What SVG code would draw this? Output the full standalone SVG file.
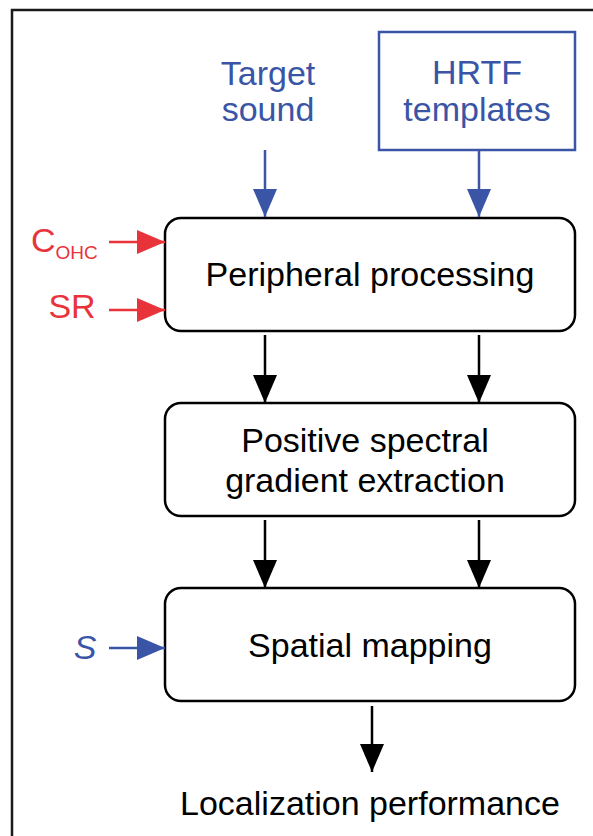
<svg xmlns="http://www.w3.org/2000/svg" width="593" height="836" viewBox="0 0 593 836">
<style>
text{font-family:"Liberation Sans",Arial,sans-serif;font-size:34px;text-anchor:middle}
.blk{fill:#000}
.blu{fill:#3a55a6}
.red{fill:#e8333b}
.box{fill:#fff;stroke:#000;stroke-width:2.5}
.c{fill:none;stroke-width:2.5}
</style>
<defs>
<marker id="ab" markerUnits="userSpaceOnUse" markerWidth="28" markerHeight="24" refX="28" refY="12" orient="auto"><path d="M0,0 L28,12 L0,24 Z" fill="#000"/></marker>
<marker id="au" markerUnits="userSpaceOnUse" markerWidth="28" markerHeight="24" refX="28" refY="12" orient="auto"><path d="M0,0 L28,12 L0,24 Z" fill="#3a55a6"/></marker>
<marker id="ar" markerUnits="userSpaceOnUse" markerWidth="28" markerHeight="24" refX="28" refY="12" orient="auto"><path d="M0,0 L28,12 L0,24 Z" fill="#e8333b"/></marker>
</defs>
<rect width="593" height="836" fill="#fff"/>
<path d="M12,836 V10 H593" fill="none" stroke="#1a1a1a" stroke-width="2.5"/>

<g id="target">
<text class="blu" x="268" y="85">Target</text>
<text class="blu" x="268" y="121">sound</text>
</g>
<g id="hrtf">
<rect x="379" y="32" width="196" height="118" fill="#fff" stroke="#3a55a6" stroke-width="2.5"/>
<text class="blu" x="477" y="84">HRTF</text>
<text class="blu" x="477" y="121">templates</text>
</g>
<g id="peripheral">
<rect class="box" x="165" y="218" width="410" height="113" rx="16"/>
<text class="blk" x="370" y="286">Peripheral processing</text>
</g>
<g id="gradient">
<rect class="box" x="165" y="403" width="410" height="113" rx="16"/>
<text class="blk" x="365" y="452">Positive spectral</text>
<text class="blk" x="365" y="492">gradient extraction</text>
</g>
<g id="spatial">
<rect class="box" x="165" y="588" width="410" height="113" rx="16"/>
<text class="blk" x="370" y="657">Spatial mapping</text>
</g>
<g id="cohc">
<text class="red" x="31" y="252" style="text-anchor:start">C<tspan font-size="19" dy="7">OHC</tspan></text>
</g>
<g id="sr">
<text class="red" x="72" y="318">SR</text>
</g>
<g id="s">
<text class="blu" x="85" y="659" font-style="italic">S</text>
</g>
<g id="output">
<text class="blk" x="370" y="815">Localization performance</text>
</g>

<g id="connectors">
<path class="c" stroke="#3a55a6" d="M265,150 V217" marker-end="url(#au)"/>
<path class="c" stroke="#3a55a6" d="M479,150 V217" marker-end="url(#au)"/>
<path class="c" stroke="#e8333b" d="M109,242 H165" marker-end="url(#ar)"/>
<path class="c" stroke="#e8333b" d="M109,310 H165" marker-end="url(#ar)"/>
<path class="c" stroke="#3a55a6" d="M109,648 H165" marker-end="url(#au)"/>
<path class="c" stroke="#000" d="M265,335 V403" marker-end="url(#ab)"/>
<path class="c" stroke="#000" d="M479,335 V403" marker-end="url(#ab)"/>
<path class="c" stroke="#000" d="M265,520 V588" marker-end="url(#ab)"/>
<path class="c" stroke="#000" d="M479,520 V588" marker-end="url(#ab)"/>
<path class="c" stroke="#000" d="M372,706 V772" marker-end="url(#ab)"/>
</g>
</svg>
